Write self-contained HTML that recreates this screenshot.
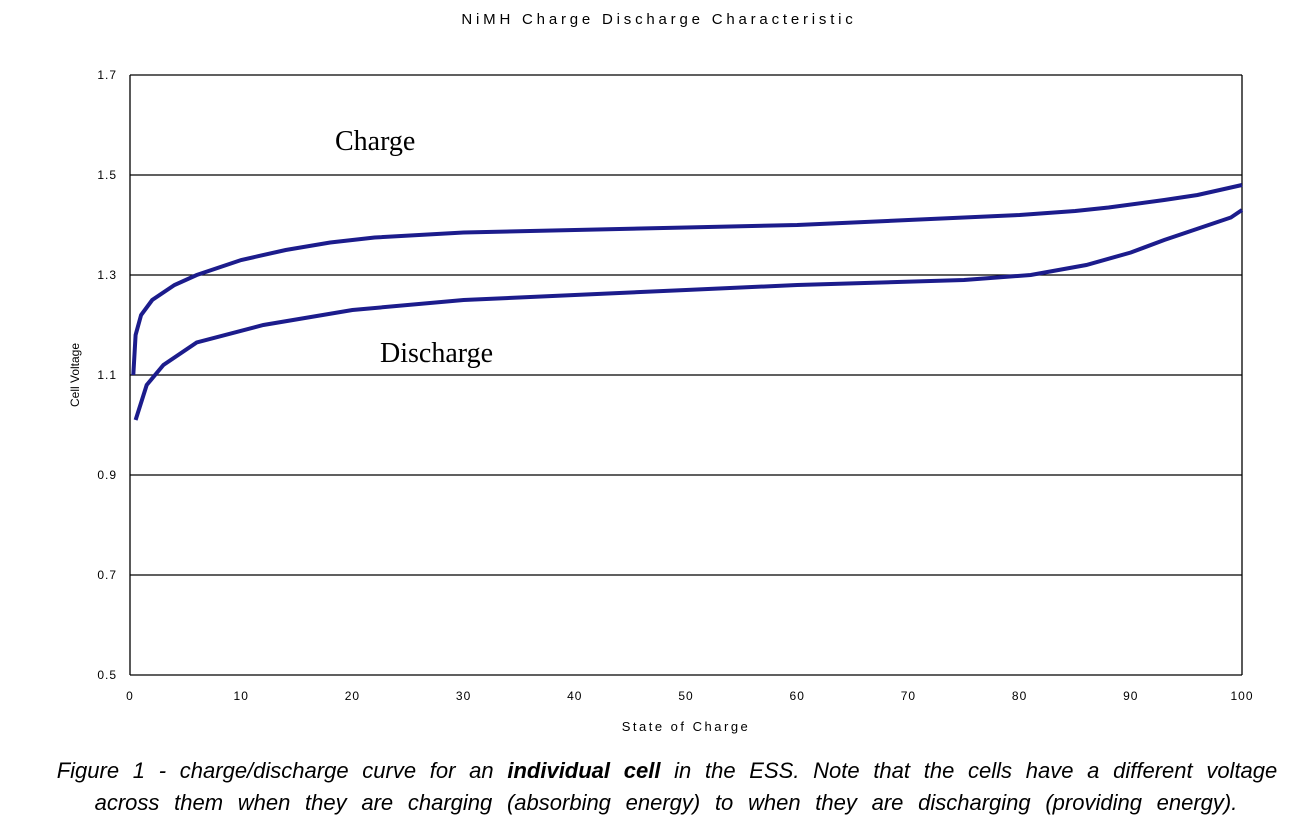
<!DOCTYPE html>
<html><head><meta charset="utf-8"><style>
body{margin:0;width:1310px;height:834px;background:#fff;overflow:hidden;font-family:"Liberation Sans",sans-serif}
.cap{position:absolute;left:0;width:1334px;text-align:center;font-style:italic;font-size:22px;line-height:32px;color:#000;white-space:nowrap}
</style></head><body>
<svg width="1310" height="750" style="position:absolute;left:0;top:0">
<text x="659" y="24" text-anchor="middle" font-size="15" letter-spacing="3.8">NiMH Charge Discharge Characteristic</text>
<g id="grid"></g><g id="ax"></g>
<text x="335" y="150" font-family="Liberation Serif" font-size="28">Charge</text>
<text x="380" y="362" font-family="Liberation Serif" font-size="28">Discharge</text>
<text transform="translate(79,375) rotate(-90)" text-anchor="middle" font-size="12">Cell Voltage</text>
<text x="686" y="731" text-anchor="middle" font-size="13" letter-spacing="2.5">State of Charge</text>
<path id="charge" fill="none" stroke="#1c1c8c" stroke-width="4"/>
<path id="discharge" fill="none" stroke="#1c1c8c" stroke-width="4"/>
</svg>
<div class="cap" style="top:755px;word-spacing:7.6px">Figure 1 - charge/discharge curve for an <b>individual cell</b> in the ESS. Note that the cells have a different voltage</div>
<div class="cap" style="top:787px;word-spacing:8.6px;left:-1px">across them when they are charging (absorbing energy) to when they are discharging (providing energy).</div>
<script>
const yTicks=[0.5,0.7,0.9,1.1,1.3,1.5,1.7];
const xTicks=[0,10,20,30,40,50,60,70,80,90,100];
const chargeSoc=[0.3,0.5,1,2,4,6,10,14,18,22,30,40,50,60,70,80,85,88,93,96,98,100];
const chargeV=[1.1,1.18,1.22,1.25,1.28,1.30,1.33,1.35,1.365,1.375,1.385,1.39,1.395,1.40,1.41,1.42,1.428,1.435,1.45,1.46,1.47,1.48];
const disSoc=[100,99,97,95,93,90,86,81,75,60,50,40,30,20,12,6,3,1.5,0.5];
const disV=[1.43,1.415,1.40,1.385,1.37,1.345,1.32,1.30,1.29,1.28,1.27,1.26,1.25,1.23,1.20,1.165,1.12,1.08,1.01];
const X=v=>130+v*11.12, Y=v=>675-(v-0.5)*500;
const ns="http://www.w3.org/2000/svg";
const g=document.getElementById('grid'),ax=document.getElementById('ax');
yTicks.forEach(t=>{
 const l=document.createElementNS(ns,'line');
 l.setAttribute('x1',X(0));l.setAttribute('x2',X(100));l.setAttribute('y1',Y(t));l.setAttribute('y2',Y(t));
 l.setAttribute('stroke','#000');l.setAttribute('stroke-width',1.3);
 
 
 g.appendChild(l);
 const tx=document.createElementNS(ns,'text');
 tx.setAttribute('x',117);tx.setAttribute('y',Y(t)+4);tx.setAttribute('text-anchor','end');tx.setAttribute('font-size',12);tx.setAttribute('letter-spacing',1);
 tx.textContent=t.toFixed(1);
 
 
 ax.appendChild(tx);
});
xTicks.forEach(t=>{
 const tx=document.createElementNS(ns,'text');
 tx.setAttribute('x',X(t));tx.setAttribute('y',700);tx.setAttribute('text-anchor','middle');tx.setAttribute('font-size',12);tx.setAttribute('letter-spacing',1);
 tx.textContent=t;
 
 
 ax.appendChild(tx);
});
[[X(0),Y(1.7),X(0),Y(0.5)],[X(100),Y(1.7),X(100),Y(0.5)]].forEach(c=>{
 const l=document.createElementNS(ns,'line');
 l.setAttribute('x1',c[0]);l.setAttribute('y1',c[1]);l.setAttribute('x2',c[2]);l.setAttribute('y2',c[3]);
 l.setAttribute('stroke','#000');l.setAttribute('stroke-width',1.3);
 
 
 ax.appendChild(l);
});
function path(xs,ys){return xs.map((x,i)=>(i?'L':'M')+X(x).toFixed(1)+','+Y(ys[i]).toFixed(1)).join(' ');}
document.getElementById('charge').setAttribute('d',path(chargeSoc,chargeV));
document.getElementById('discharge').setAttribute('d',path(disSoc,disV));
</script>
</body></html>
